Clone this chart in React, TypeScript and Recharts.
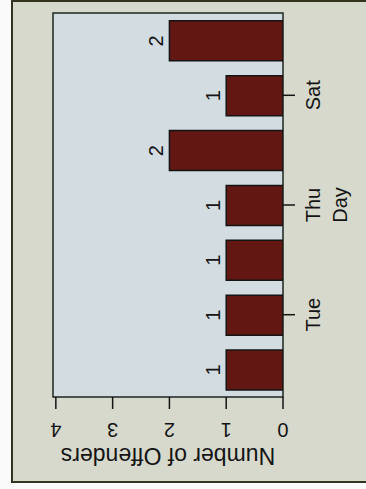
import React from 'react'
import { BarChart, Bar, XAxis, YAxis, CartesianGrid, ReferenceArea, LabelList, Label } from 'recharts'

// the photo is a plain bar chart turned a quarter turn to the left
const days = ['Mon', 'Tue', 'Wed', 'Thu', 'Fri', 'Sat', 'Sun']
const offenders = [1, 1, 1, 1, 2, 1, 2]
const labeledDays = ['Tue', 'Thu', 'Sat']
const countTicks = [0, 1, 2, 3, 4]

const data = days.map((day, i) => ({ day, count: offenders[i] }))

const FONT = '"Liberation Sans", Arial, Helvetica, sans-serif'
const INK = '#141414'

const DayTick = (props: any) => {
  const { x, y, payload } = props
  if (!labeledDays.includes(payload.value)) return <g />
  return (
    <g>
      <line x1={x} x2={x} y1={y} y2={y + 12} stroke={INK} strokeWidth={1.5} />
      <text x={x} y={y + 37} textAnchor="middle" fontSize={20} fontFamily={FONT} fill={INK}>
        {payload.value}
      </text>
    </g>
  )
}

const CountTick = (props: any) => {
  const { x, y, payload } = props
  const tx = x - 14
  return (
    <text
      x={tx}
      y={y}
      transform={`rotate(-90, ${tx}, ${y})`}
      textAnchor="middle"
      fontSize={20}
      fontFamily={FONT}
      fill={INK}
    >
      {payload.value}
    </text>
  )
}

const YTitle = (props: any) => {
  const vb = props.viewBox || { x: 32, y: 53, width: 60, height: 230 }
  const tx = vb.x + 9
  const ty = vb.y + vb.height / 2
  return (
    <text x={tx} y={ty} transform={`rotate(-90, ${tx}, ${ty})`} textAnchor="middle" fontSize={23} fontFamily={FONT} fill={INK}>
      Number of Offenders
    </text>
  )
}

const XTitle = (props: any) => {
  const vb = props.viewBox || { x: 92, y: 283, width: 384, height: 64 }
  return (
    <text x={vb.x + vb.width / 2} y={vb.y + 64} textAnchor="middle" fontSize={20} fontFamily={FONT} fill={INK}>
      Day
    </text>
  )
}

export default function App() {
  return (
    <div style={{ position: 'fixed', left: 0, top: 0, width: 366, height: 489, overflow: 'hidden', background: '#fafafa' }}>
      <div
        style={{
          position: 'absolute',
          left: 0,
          top: 0,
          width: 489,
          height: 366,
          transformOrigin: '0 0',
          transform: 'translate(0px, 489px) rotate(-90deg)',
        }}
      >
        <div
          style={{
            position: 'absolute',
            left: 6,
            top: 11,
            width: 483,
            height: 380,
            boxSizing: 'border-box',
            border: '2px solid #34331f',
            background: '#d7d9cd',
          }}
        />
        <div style={{ position: 'absolute', left: 0, top: 0 }}>
          <BarChart width={489} height={366} data={data} margin={{ top: 53, right: 13, left: 32, bottom: 19 }}>
            <CartesianGrid horizontal={false} vertical={false} fill="#d3dde1" fillOpacity={1} />
            <XAxis
              dataKey="day"
              height={64}
              interval={0}
              axisLine={false}
              tickLine={false}
              tickSize={0}
              tickMargin={0}
              tick={<DayTick />}
            >
              <Label content={<XTitle />} />
            </XAxis>
            <YAxis
              type="number"
              domain={[0, 4.05]}
              ticks={countTicks}
              width={60}
              axisLine={false}
              tickSize={12}
              tickMargin={0}
              tickLine={{ stroke: INK, strokeWidth: 1.5 }}
              tick={<CountTick />}
              allowDataOverflow
            >
              <Label content={<YTitle />} />
            </YAxis>
            <Bar dataKey="count" fill="#621713" stroke={INK} strokeWidth={1.5} barSize={40} isAnimationActive={false}>
              <LabelList dataKey="count" position="top" offset={6} fontSize={20} fontFamily={FONT} fill={INK} />
            </Bar>
            <ReferenceArea y1={0} y2={4.05} fill="none" stroke="#1c2420" strokeWidth={1.5} ifOverflow="visible" />
          </BarChart>
        </div>
      </div>
    </div>
  )
}
